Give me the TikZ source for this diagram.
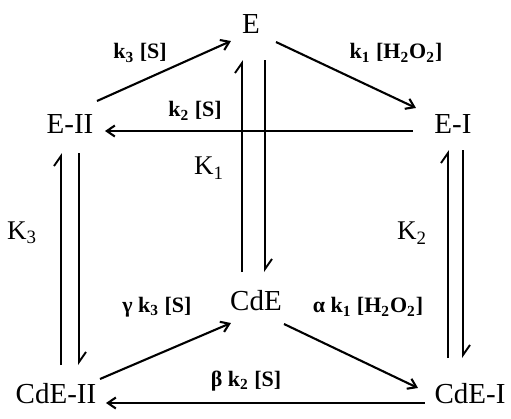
\documentclass[tikz,border=0pt]{standalone}
\usepackage{fontspec}
\setmainfont{Liberation Serif}
\usepackage{tikz}
\usetikzlibrary{arrows.meta,positioning,calc}

\tikzset{
  species/.style={inner sep=0pt, font=\fontsize{14.5}{16}\selectfont},
  rate/.style={inner sep=0pt, font=\bfseries\fontsize{11}{13}\selectfont},
  eqconst/.style={inner sep=0pt, font=\fontsize{13.5}{15}\selectfont},
  flow/.style={-{Straight Barb[length=4pt,width=5.5pt]}, line width=1.05pt},
  harpoon/.style={-{Straight Barb[left,length=5pt,width=7pt]}, line width=0.95pt}
}

\begin{document}
\begin{tikzpicture}[x=0.5pt,y=-0.5pt]
    \useasboundingbox (0,0) rectangle (511,419);

    % Enzyme species
    \node[species] (E) at (251,24) {E};
    \node[species] (EII) at (70,124) {E-II};
    \node[species] (EI) at (453,124) {E-I};
    \node[species] (CdE) at (256,301) {CdE};
    \node[species] (CdEII) at (56,394) {CdE-II};
    \node[species] (CdEI) at (470,394) {CdE-I};

    % Upper cycle
    \draw[flow] ($(EII)+(27,-23)$) -- ($(E)+(-20,17)$);
    \draw[flow] ($(E)+(25,18)$) -- ($(EI)+(-37,-16)$);
    \draw[flow] ($(EI)+(-40,7)$) -- ($(EII)+(35,7)$);

    % Lower cycle
    \draw[flow] ($(CdEII)+(44,-15)$) -- ($(CdE)+(-25,22)$);
    \draw[flow] ($(CdE)+(28,23)$) -- ($(CdEI)+(-52,-6)$);
    \draw[flow] ($(CdEI)+(-45,9)$) -- ($(CdEII)+(50,9)$);

    % Equilibria
    \draw[harpoon] ($(CdE)+(-14,-29)$) -- ($(E)+(-9,36)$);
    \draw[harpoon] ($(E)+(14,36)$) -- ($(CdE)+(9,-29)$);
    \draw[harpoon] ($(CdEII)+(5,-29)$) -- ($(EII)+(-9,29)$);
    \draw[harpoon] ($(EII)+(9,29)$) -- ($(CdEII)+(23,-29)$);
    \draw[harpoon] ($(CdEI)+(-22,-36)$) -- ($(EI)+(-5,26)$);
    \draw[harpoon] ($(EI)+(10,26)$) -- ($(CdEI)+(-7,-36)$);

    % Rate labels
    \node[rate] (k3) at (140,53) {k\textsubscript{3} [S]};
    \node[rate] (k1) at (396,53) {k\textsubscript{1} [H\textsubscript{2}O\textsubscript{2}]};
    \node[rate] (k2) at (195,111) {k\textsubscript{2} [S]};
    \node[rate] (gk3) at (157,307) {γ k\textsubscript{3} [S]};
    \node[rate] (ak1) at (368,307) {α k\textsubscript{1} [H\textsubscript{2}O\textsubscript{2}]};
    \node[rate] (bk2) at (246,381) {β k\textsubscript{2} [S]};

    % Binding constants
    \node[eqconst] (K1) at (209,168) {K\textsubscript{1}};
    \node[eqconst] (K3) at (22,233) {K\textsubscript{3}};
    \node[eqconst] (K2) at (412,233) {K\textsubscript{2}};
\end{tikzpicture}
\end{document}
